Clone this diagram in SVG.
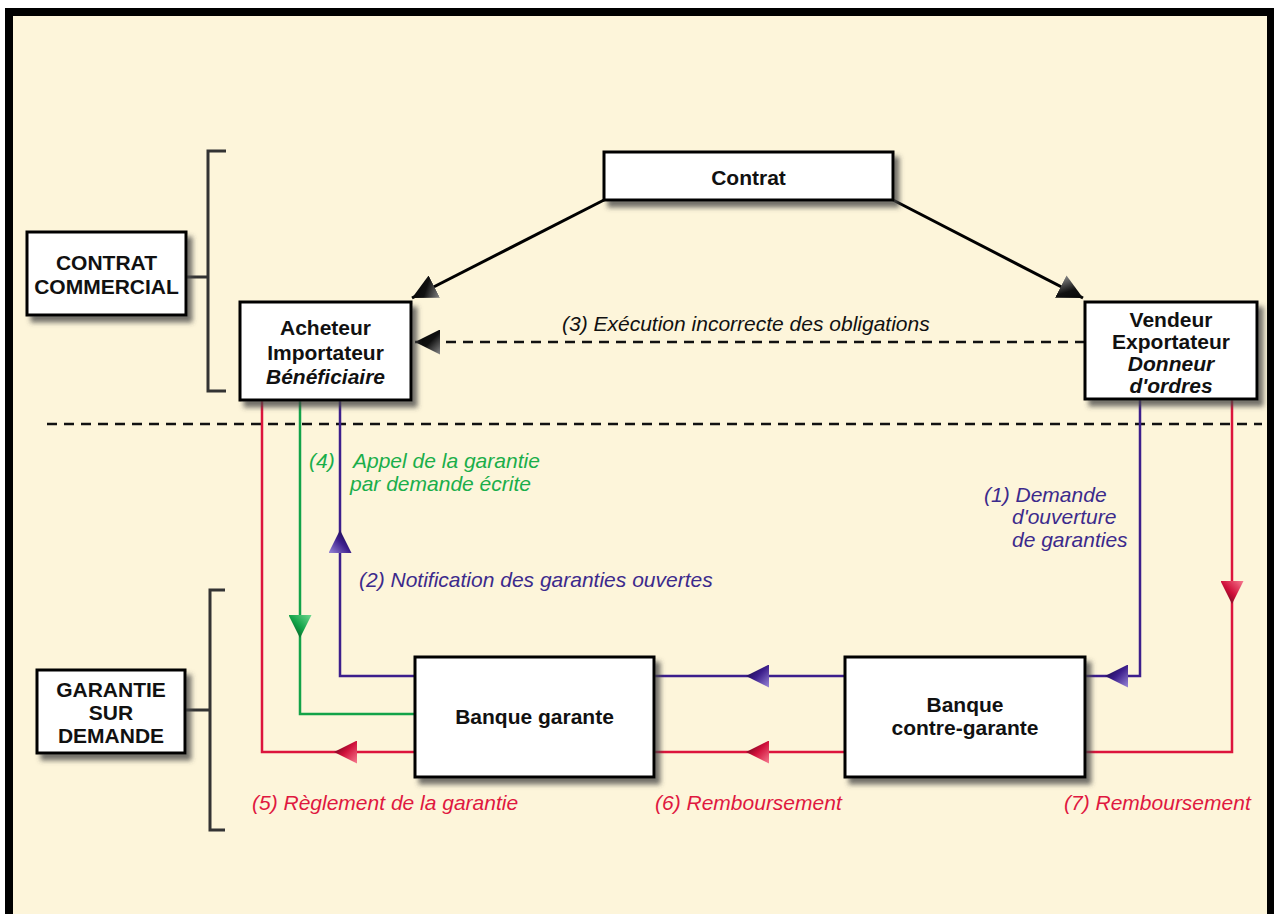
<svg xmlns="http://www.w3.org/2000/svg" width="1274" height="914" viewBox="0 0 1274 914">
<defs>
<style>
.box{fill:#fff;stroke:#000;stroke-width:3;filter:url(#sh)}
.bt{font-family:"Liberation Sans",Arial,sans-serif;font-weight:bold;font-size:21px;fill:#111;text-anchor:middle}
.bi{font-style:italic}
.lbl{font-family:"Liberation Sans",Arial,sans-serif;font-style:italic;font-size:21px}
.red{stroke:#dc143c}
.grn{stroke:#12a348}
.pur{stroke:#3c1e8c}
.ln{fill:none;stroke-width:2.5}
.blk{fill:none;stroke:#000;stroke-width:3}
.tred{fill:#e0183f}
.tgrn{fill:#1aae4a}
.tpur{fill:#3c2a8c}
.brk{fill:none;stroke:#333;stroke-width:3}
.dash{fill:none;stroke:#111;stroke-width:2.5;stroke-dasharray:10 7}
</style>
<filter id="sh" x="-10%" y="-20%" width="130%" height="150%">
<feDropShadow dx="5" dy="6" stdDeviation="2.5" flood-color="#444" flood-opacity="0.75"/>
</filter>
<linearGradient id="gk" x1="0" y1="0" x2="1" y2="1"><stop offset="0" stop-color="#888"/><stop offset="0.45" stop-color="#111"/><stop offset="1" stop-color="#000"/></linearGradient>
<linearGradient id="gr" x1="0" y1="0" x2="1" y2="1"><stop offset="0" stop-color="#f77a90"/><stop offset="0.5" stop-color="#d0103a"/><stop offset="1" stop-color="#400010"/></linearGradient>
<linearGradient id="gg" x1="0" y1="0" x2="1" y2="1"><stop offset="0" stop-color="#6fd890"/><stop offset="0.5" stop-color="#12a348"/><stop offset="1" stop-color="#003a14"/></linearGradient>
<linearGradient id="gp" x1="0" y1="0" x2="1" y2="1"><stop offset="0" stop-color="#9a88d8"/><stop offset="0.5" stop-color="#3c1e8c"/><stop offset="1" stop-color="#0a0030"/></linearGradient>
<marker id="ak" viewBox="0 0 24 24" refX="24" refY="12" markerWidth="25" markerHeight="25" orient="auto" markerUnits="userSpaceOnUse"><path d="M0,0 L24,12 L0,24 z" fill="url(#gk)"/></marker>
<marker id="ar" viewBox="0 0 22 22" refX="22" refY="11" markerWidth="23" markerHeight="23" orient="auto" markerUnits="userSpaceOnUse"><path d="M0,0 L22,11 L0,22 z" fill="url(#gr)"/></marker>
<marker id="ag" viewBox="0 0 22 22" refX="22" refY="11" markerWidth="23" markerHeight="23" orient="auto" markerUnits="userSpaceOnUse"><path d="M0,0 L22,11 L0,22 z" fill="url(#gg)"/></marker>
<marker id="ap" viewBox="0 0 22 22" refX="22" refY="11" markerWidth="23" markerHeight="23" orient="auto" markerUnits="userSpaceOnUse"><path d="M0,0 L22,11 L0,22 z" fill="url(#gp)"/></marker>
</defs>
<rect x="0" y="0" width="1274" height="914" fill="#fff"/>
<rect x="5" y="8" width="1269" height="906" fill="#000"/>
<rect x="13" y="16" width="1254" height="898" fill="#fdf5da"/>

<g id="brackets">
<path class="brk" d="M226,151 H208 V391 H226 M186,277 H208"/>
<path class="brk" d="M225,590 H210 V830 H225 M185,710 H210"/>
</g>

<path class="dash" d="M47,424 H1262"/>

<g id="connectors">
<path class="blk" d="M604,200 L412,298" marker-end="url(#ak)"/>
<path class="blk" d="M893,200 L1083,298" marker-end="url(#ak)"/>
<path class="dash" d="M1085,342 H415" marker-end="url(#ak)"/>

<path class="ln red" d="M415,752 H334" marker-end="url(#ar)"/>
<path class="ln red" d="M334,752 H262 V400"/>
<path class="ln grn" d="M300,400 V638" marker-end="url(#ag)"/>
<path class="ln grn" d="M300,638 V714 H415"/>
<path class="ln pur" d="M415,676 H340 V530" marker-end="url(#ap)"/>
<path class="ln pur" d="M340,530 V400"/>

<path class="ln pur" d="M845,676 H746" marker-end="url(#ap)"/>
<path class="ln pur" d="M746,676 H654"/>
<path class="ln red" d="M845,752 H746" marker-end="url(#ar)"/>
<path class="ln red" d="M746,752 H654"/>

<path class="ln pur" d="M1140,399 V676 H1105" marker-end="url(#ap)"/>
<path class="ln pur" d="M1105,676 H1085"/>
<path class="ln red" d="M1232,399 V604" marker-end="url(#ar)"/>
<path class="ln red" d="M1232,604 V752 H1085"/>
</g>

<g id="contrat">
<rect class="box" x="604" y="152" width="289" height="48"/>
<text class="bt" x="748.5" y="185">Contrat</text>
</g>
<g id="contrat-commercial">
<rect class="box" x="27" y="232" width="159" height="83"/>
<text class="bt" x="106.5" y="270">CONTRAT</text>
<text class="bt" x="106.5" y="294">COMMERCIAL</text>
</g>
<g id="acheteur">
<rect class="box" x="240" y="302" width="171" height="98"/>
<text class="bt" x="325.5" y="335">Acheteur</text>
<text class="bt" x="325.5" y="360">Importateur</text>
<text class="bt bi" x="325.5" y="384">Bénéficiaire</text>
</g>
<g id="vendeur">
<rect class="box" x="1085" y="302" width="172" height="97"/>
<text class="bt" x="1171" y="327">Vendeur</text>
<text class="bt" x="1171" y="349">Exportateur</text>
<text class="bt bi" x="1171" y="371">Donneur</text>
<text class="bt bi" x="1171" y="393">d'ordres</text>
</g>
<g id="garantie-sur-demande">
<rect class="box" x="37" y="670" width="148" height="83"/>
<text class="bt" x="111" y="697">GARANTIE</text>
<text class="bt" x="111" y="720">SUR</text>
<text class="bt" x="111" y="743">DEMANDE</text>
</g>
<g id="banque-garante">
<rect class="box" x="415" y="657" width="239" height="120"/>
<text class="bt" x="534.5" y="724">Banque garante</text>
</g>
<g id="banque-contre-garante">
<rect class="box" x="845" y="657" width="240" height="120"/>
<text class="bt" x="965" y="712">Banque</text>
<text class="bt" x="965" y="735">contre-garante</text>
</g>

<g id="labels">
<text class="lbl" x="562" y="331" fill="#111">(3) Exécution incorrecte des obligations</text>
<text class="lbl tgrn" x="309" y="468">(4)</text>
<text class="lbl tgrn" x="353" y="468">Appel de la garantie</text>
<text class="lbl tgrn" x="350" y="491">par demande écrite</text>
<text class="lbl tpur" x="359" y="587">(2) Notification des garanties ouvertes</text>
<text class="lbl tpur" x="984" y="502">(1) Demande</text>
<text class="lbl tpur" x="1012" y="524">d'ouverture</text>
<text class="lbl tpur" x="1012" y="547">de garanties</text>
<text class="lbl tred" x="252" y="810">(5) Règlement de la garantie</text>
<text class="lbl tred" x="655" y="810">(6) Remboursement</text>
<text class="lbl tred" x="1064" y="810">(7) Remboursement</text>
</g>
</svg>
